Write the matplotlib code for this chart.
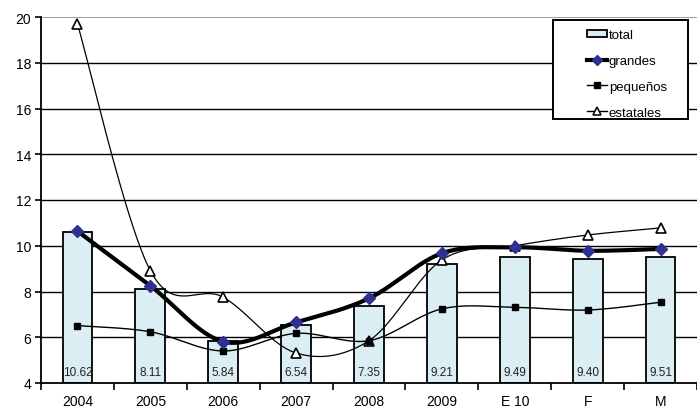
import numpy as np
import matplotlib
matplotlib.use("Agg")
import matplotlib.pyplot as plt
from matplotlib.patches import Rectangle
from matplotlib.lines import Line2D

plt.rcParams['font.family'] = ['Liberation Sans', 'DejaVu Sans']

categories = ["2004", "2005", "2006", "2007", "2008", "2009", "E 10", "F", "M"]
total = [10.62, 8.11, 5.84, 6.54, 7.35, 9.21, 9.49, 9.40, 9.51]
grandes = [10.64, 8.25, 5.81, 6.65, 7.70, 9.67, 9.93, 9.78, 9.86]
pequenos = [6.51, 6.24, 5.40, 6.17, 5.85, 7.24, 7.31, 7.19, 7.53]
estatales = [19.70, 8.91, 7.75, 5.31, 5.85, 9.38, 10.00, 10.47, 10.78]
total_labels = ["10.62", "8.11", "5.84", "6.54", "7.35", "9.21", "9.49", "9.40", "9.51"]


def smooth_curve(xs, ys, n=40):
    """Piecewise cubic Bezier through the points (Catmull-Rom style tangents)."""
    pts = np.column_stack([xs, ys]).astype(float)
    t = np.linspace(0, 1, n)[:, None]
    segs = []
    for i in range(len(pts) - 1):
        p0, p3 = pts[i], pts[i + 1]
        pm = pts[i - 1] if i > 0 else pts[i]
        pp = pts[i + 2] if i + 2 < len(pts) else pts[i + 1]
        c1 = p0 + (p3 - pm) / 6.0
        c2 = p3 - (pp - p0) / 6.0
        seg = ((1 - t) ** 3) * p0 + 3 * ((1 - t) ** 2) * t * c1 \
            + 3 * (1 - t) * (t ** 2) * c2 + (t ** 3) * p3
        segs.append(seg if i == 0 else seg[1:])
    curve = np.vstack(segs)
    return curve[:, 0], curve[:, 1]


W, H = 697, 410
fig = plt.figure(figsize=(W / 100, H / 100), dpi=100)
ax_left, ax_top, ax_bottom = 41, 18, 384
ax = fig.add_axes([ax_left / W, (H - ax_bottom) / H, (W - ax_left) / W, (ax_bottom - ax_top) / H])

x = np.arange(len(categories))
step_px = 73.67
ax.set_xlim(-0.5, -0.5 + (W - ax_left) / step_px)
ax.set_ylim(4, 20)

# horizontal grid
for yv in range(6, 20, 2):
    ax.axhline(yv, color='black', lw=1.0, zorder=0.5)
ax.axhline(20, color='#8c8c8c', lw=1.2, zorder=0.5)

bar_color = '#daeef3'
ax.bar(x, [v - 4 for v in total], bottom=4, width=0.41, color=bar_color,
       edgecolor='black', linewidth=1.3, zorder=2)

for xi, lab in zip(x, total_labels):
    ax.annotate(lab, (xi, 4), xytext=(0, 8), textcoords='offset points',
                ha='center', va='center', fontsize=8.5, color='#222222', zorder=3)

sx, sy = smooth_curve(x, estatales)
ax.plot(sx, sy, color='black', lw=0.9, zorder=3)
ax.plot(x, estatales, ls='none', marker='^', ms=6.5, mfc='white', mec='black',
        mew=1.2, zorder=4)

sx, sy = smooth_curve(x, pequenos)
ax.plot(sx, sy, color='black', lw=1.0, zorder=3)
ax.plot(x, pequenos, ls='none', marker='s', ms=4.8, mfc='black', mec='black', zorder=4)

sx, sy = smooth_curve(x, grandes)
ax.plot(sx, sy, color='black', lw=3.0, zorder=5)
ax.plot(x, grandes, ls='none', marker='D', ms=6.5, mfc='#2e3192', mec='#2e3192', zorder=6)

# axes styling
for s in ['top', 'right']:
    ax.spines[s].set_visible(False)
ax.spines['left'].set_linewidth(1.3)
ax.spines['bottom'].set_linewidth(1.3)
ax.set_yticks(range(4, 21, 2))
ax.tick_params(axis='y', direction='out', length=4, width=1.2, labelsize=10, pad=3)
ax.set_xticks(x)
ax.set_xticklabels(categories)
ax.tick_params(axis='x', which='major', length=0, labelsize=10, pad=8)
ax.set_xticks(np.arange(-0.5, len(categories) + 0.5, 1), minor=True)
ax.tick_params(axis='x', which='minor', direction='out', length=5, width=1.2)

# legend
handles = [
    Rectangle((0, 0), 1, 1, facecolor=bar_color, edgecolor='black', lw=1.3),
    Line2D([], [], color='black', lw=3.0, marker='D', ms=5, mfc='#2e3192', mec='#2e3192'),
    Line2D([], [], color='black', lw=1.0, marker='s', ms=4.5, mfc='black', mec='black'),
    Line2D([], [], color='black', lw=1.0, marker='^', ms=6, mfc='white', mec='black', mew=1.1),
]
labels = ['total', 'grandes', 'pequeños', 'estatales']
leg = fig.legend(handles, labels, loc='upper left', bbox_to_anchor=(587 / W, 1 - 30 / H),
                 frameon=False, fontsize=9.5, handlelength=1.55, handletextpad=0.1,
                 labelspacing=1.05, borderpad=0, borderaxespad=0, handleheight=0.5)
fig.add_artist(Rectangle((553 / W, 1 - 120 / H), (688 - 553) / W, (120 - 21) / H,
                         transform=fig.transFigure, facecolor='white', edgecolor='black',
                         lw=1.4, zorder=1))
leg.set_zorder(2)

fig.savefig('out.png', dpi=100)
